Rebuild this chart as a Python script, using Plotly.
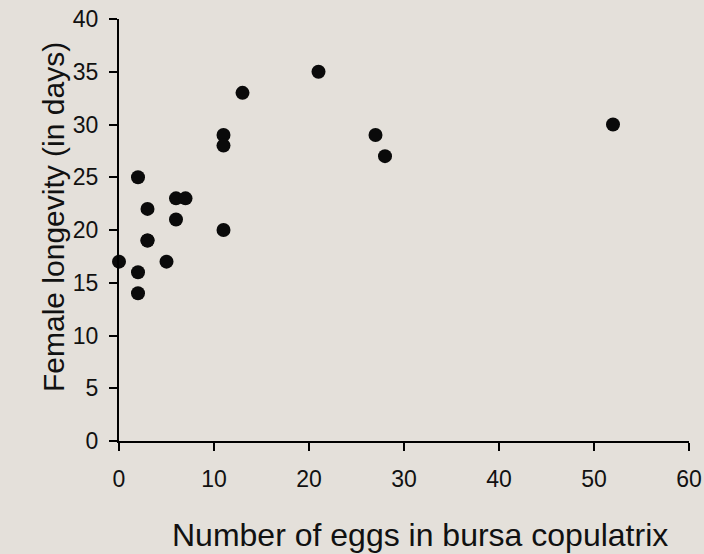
import plotly.graph_objects as go

eggs = [0, 2, 2, 2, 3, 3, 3, 5, 6, 6, 7, 11, 11, 11, 13, 21, 27, 28, 52]
longevity = [17, 25, 16, 14, 22, 19, 19, 17, 23, 21, 23, 29, 28, 20, 33, 35, 29, 27, 30]

x_ticks = [0, 10, 20, 30, 40, 50, 60]
y_ticks = [0, 5, 10, 15, 20, 25, 30, 35, 40]

x_title = "Number of eggs in bursa copulatrix"
y_title = "Female longevity (in days)"

bg = "#e4e0da"
font_family = "Liberation Sans, Arial, sans-serif"

fig = go.Figure()
fig.add_trace(go.Scatter(
    x=eggs, y=longevity, mode="markers",
    marker=dict(size=14, color="#0a0a0a"),
    cliponaxis=False, showlegend=False,
))

axis_common = dict(
    showline=True, linecolor="black", linewidth=2,
    ticks="outside", ticklen=8, tickwidth=2, tickcolor="black",
    showgrid=False, zeroline=False, automargin=False,
    tickfont=dict(family=font_family, size=23, color="#111111"),
)

fig.update_layout(
    width=704, height=554, autosize=False,
    margin=dict(l=119, r=15, t=19, b=113, autoexpand=False),
    paper_bgcolor=bg, plot_bgcolor=bg,
    font=dict(family=font_family, color="#111111"),
    xaxis=dict(range=[0, 60], tickvals=x_ticks, ticktext=[str(v) for v in x_ticks],
               ticklabelstandoff=8, **axis_common),
    yaxis=dict(range=[0, 40], tickvals=y_ticks, ticktext=[str(v) for v in y_ticks],
               ticklabelstandoff=6, **axis_common),
    annotations=[
        dict(text=x_title, xref="paper", yref="paper", x=(420 - 119) / 570, y=(441 - 535) / 422,
             xanchor="center", yanchor="middle", showarrow=False,
             font=dict(family=font_family, size=32, color="#111111")),
        dict(text=y_title, xref="paper", yref="paper", x=(54 - 119) / 570, y=(441 - 217) / 422,
             xanchor="center", yanchor="middle", showarrow=False, textangle=-90,
             font=dict(family=font_family, size=30, color="#111111")),
    ],
)

fig.write_html(
    "out.html",
    config={"displayModeBar": False},
    post_script="document.body.style.margin='0';document.body.style.background='" + bg + "';",
)
